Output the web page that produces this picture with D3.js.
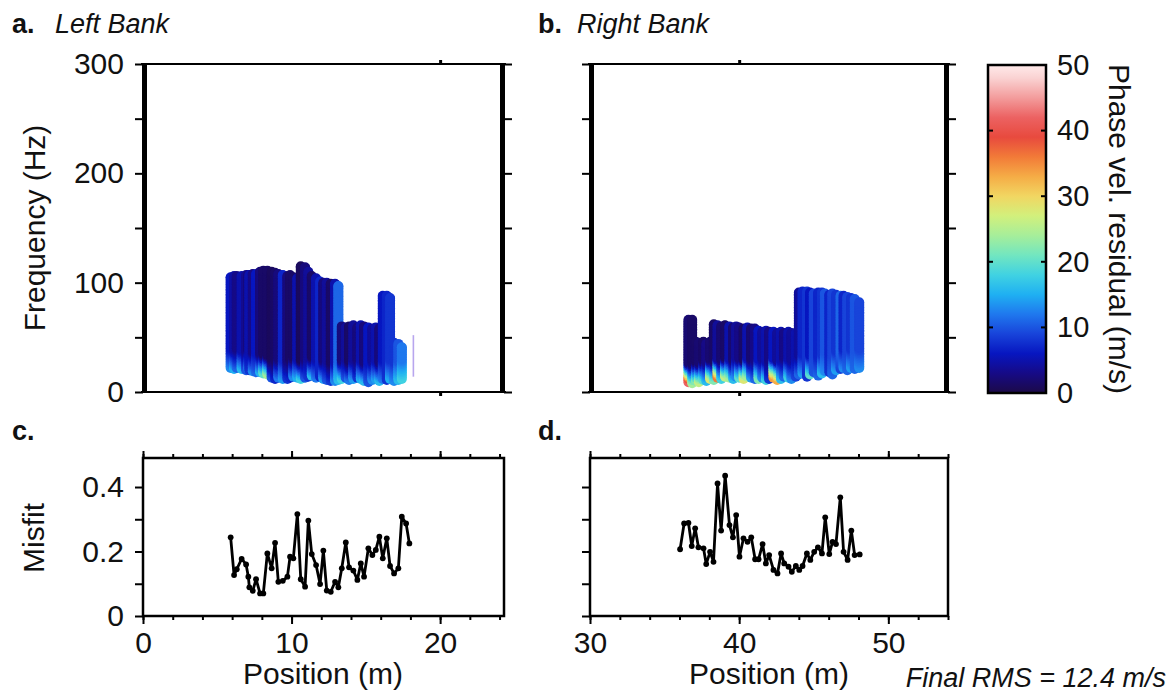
<!DOCTYPE html>
<html><head><meta charset="utf-8">
<script src="https://cdn.jsdelivr.net/npm/d3@7"></script>
<style>
body{margin:0;background:#fff}
svg{display:block}
text{font-family:"Liberation Sans",Arial,Helvetica,sans-serif;fill:#111}
</style>
</head><body>
<svg id="c" width="1175" height="695"></svg>
<script>
// ---------------- DATA ----------------
// Left bank: dispersion columns (position m, top/bottom frequency Hz, residual m/s body / low-freq)
const lPos  = [5.90,6.13,6.31,6.64,6.94,7.09,7.16,7.39,7.61,7.88,8.10,8.37,8.66,8.89,9.11,9.41,9.72,9.90,10.12,10.39,10.62,10.91,11.13,11.36,11.65,11.92,12.14,12.37,12.64,12.93,13.15,13.38,13.65,13.87,14.16,14.43,14.66,14.88,15.17,15.44,15.67,15.91,16.14,16.41,16.63,16.90,17.19,17.42];
const lTop  = [105,106,106,106,107,107,107,108,108,110,111,111,110,109,108,107,106,107,105,104,115,114,110,106,104,101,100,100,99,99,97,60,59,60,61,59,61,60,59,58,59,58,88,88,86,45,44,41];
const lBot  = [22,21,22,21,20,21,20,19,18,18,17,16,13,12,13,12,12,13,14,13,12,13,14,15,13,14,12,11,10,10,11,12,13,11,12,13,12,10,9,11,12,10,12,11,12,10,11,12];
const lBody = [6,4.5,3,5,3.5,2.5,5,3,6,2.5,1.5,1.5,1,1.5,2.5,7,2.5,1.5,1.5,5,1,2.5,4,1.5,5,7,2.5,4,1.5,5,11,2.5,4,1.5,4,2.5,5,2.5,6,4,5,2.5,6,7,8,8,10,12];
const lLow  = [13,15,11,16,10,12,8,13,11,15,20,24,10,7,12,14,8,7,13,15,18,10,8,16,12,7,14,10,8,13,16,18,10,12,14,8,15,16,10,13,14,16,12,8,15,13,16,18];
const lThinPos = [18.2], lThinLo = [14], lThinHi = [52];

// Right bank columns
const rPos  = [36.6,36.85,37.1,37.3,37.6,37.8,38.05,38.3,38.55,38.8,39.05,39.35,39.6,39.8,40.0,40.3,40.55,40.8,41.05,41.3,41.55,41.8,42.0,42.3,42.55,42.8,43.0,43.3,43.5,43.8,44.0,44.25,44.55,44.75,45.0,45.3,45.55,45.75,46.05,46.25,46.5,46.8,47.0,47.25,47.5,47.75,48.05];
const rTop  = [66,66,46,45,46,44,46,62,61,60,61,60,59,60,59,58,59,58,58,56,55,56,55,55,54,55,54,55,54,54,91,92,92,91,90,91,91,90,89,90,89,88,88,87,86,85,82];
const rBot  = [9,8,10,9,11,10,12,11,13,12,14,13,12,14,13,12,14,13,12,12,13,11,12,13,11,12,14,13,12,14,16,17,14,16,18,15,17,19,18,16,20,21,22,20,22,21,22];
const rBody = [2,1.5,1.5,2,1.5,3,2,1.5,4,2,1.5,5,2,4,3,1.5,5,2,3,6,4,5,3,6,4,5,3,5,4,5,4,7,8,6,9,7,8,10,7,9,8,11,7,9,8,10,9];
const rLow  = [42,24,22,26,20,16,28,22,36,18,26,24,16,13,20,28,24,14,11,22,13,18,8,34,33,16,11,18,13,9,11,14,8,20,10,11,16,13,8,11,14,9,13,11,14,11,13];

// Misfit curves
const lMisPos = [5.90,6.13,6.31,6.64,6.94,7.09,7.16,7.39,7.61,7.88,8.10,8.37,8.66,8.89,9.11,9.41,9.72,9.90,10.12,10.39,10.62,10.91,11.13,11.36,11.65,11.92,12.14,12.37,12.64,12.93,13.15,13.38,13.65,13.87,14.16,14.43,14.66,14.88,15.17,15.44,15.67,15.91,16.14,16.41,16.63,16.90,17.19,17.42,17.71,17.93];
const lMis    = [0.244,0.127,0.145,0.177,0.160,0.122,0.089,0.078,0.114,0.070,0.070,0.194,0.148,0.227,0.106,0.109,0.122,0.184,0.179,0.316,0.114,0.091,0.296,0.192,0.158,0.099,0.203,0.079,0.075,0.106,0.089,0.148,0.228,0.151,0.141,0.112,0.163,0.122,0.210,0.189,0.205,0.246,0.179,0.241,0.155,0.132,0.148,0.308,0.287,0.225];
const rMisPos = [36.04,36.31,36.60,36.82,37.05,37.27,37.61,37.79,38.05,38.28,38.55,38.79,39.06,39.35,39.58,39.80,40.02,40.29,40.56,40.81,41.07,41.30,41.57,41.79,42.01,42.30,42.57,42.81,43.02,43.31,43.53,43.80,44.03,44.25,44.54,44.77,45.03,45.28,45.55,45.77,46.04,46.26,46.49,46.78,47.00,47.27,47.52,47.74,48.08];
const rMis    = [0.207,0.287,0.289,0.217,0.272,0.213,0.210,0.161,0.199,0.168,0.411,0.265,0.435,0.282,0.244,0.313,0.184,0.241,0.230,0.244,0.176,0.176,0.223,0.163,0.189,0.143,0.132,0.194,0.163,0.153,0.137,0.155,0.143,0.155,0.194,0.174,0.199,0.213,0.194,0.306,0.192,0.230,0.223,0.368,0.199,0.174,0.265,0.189,0.191];

// Tick values / labels
const freqTicks = [0,50,100,150,200,250,300];
const freqLabels = [0,100,200,300];
const misTicks = [0,0.1,0.2,0.3,0.4];
const misLabels = [0,0.2,0.4];
const cbarTicks = [0,10,20,30,40,50];
const colorStopVals = [0,3,6,9,12,15,18,21,24,27,30,33,36,39,42,45,48,50];
const colorStopCols = ["#1c0a48","#160a86","#0716c0","#1844da","#1f78ee","#1fb0f2","#40d2e2","#72e6c0","#a6ee9a","#d2f07c","#f1d662","#f5ac46","#f27a38","#e84a3e","#ec6262","#f39c9c","#fad2d2","#ffeaea"];

// ---------------- DRAW ----------------
const svg = d3.select("#c");
const color = d3.scaleLinear().domain(colorStopVals).range(colorStopCols).clamp(true);

const panels = {
  a: {x: d3.scaleLinear().domain([0,24.3]).range([143,504]), major: [0,10,20], mark: 20},
  b: {x: d3.scaleLinear().domain([30,54]).range([590,948]), major: [30,40,50], mark: 40}
};
const yF = d3.scaleLinear().domain([0,300]).range([392,64]);
const yM = d3.scaleLinear().domain([0,0.49]).range([616,458]);
const FS = 30;

function styleAxis(g, fs){
  g.select(".domain").remove();
  g.selectAll("line").attr("stroke","#000").attr("stroke-width",2);
  g.selectAll("text").style("font-size",fs+"px").style("font-family","'Liberation Sans',Arial,sans-serif").attr("fill","#111");
}

function topPanel(p, pos, top, bot, body, low, showLabels){
  const x = p.x, [x0,x1] = x.range(), y0 = yF.range()[1], y1 = yF.range()[0];
  const g = svg.append("g");
  pos.forEach((ps,i)=>{
    const pts = [];
    for(let f=bot[i]; f<=top[i]; f+=1.5) pts.push(f);
    if(pts[pts.length-1] < top[i]) pts.push(top[i]);
    pts.forEach(f=>{
      const t = Math.max(0, Math.min(1, (f - bot[i] - 1.5)/16));
      const r = low[i] + (body[i]-low[i])*t;
      g.append("circle").attr("cx", x(ps)).attr("cy", yF(f)).attr("r", 5).attr("fill", color(r));
    });
  });
  const la = svg.append("g").attr("transform",`translate(${x0},0)`)
    .call(d3.axisLeft(yF).tickValues(freqTicks).tickSize(8).tickPadding(11)
      .tickFormat(d => showLabels && freqLabels.includes(d) ? d : ""));
  styleAxis(la, FS);
  const ra = svg.append("g").attr("transform",`translate(${x1},0)`)
    .call(d3.axisRight(yF).tickValues(freqTicks).tickSize(8).tickFormat(""));
  styleAxis(ra, FS);
  const ta = svg.append("g").attr("transform",`translate(0,${y0})`)
    .call(d3.axisTop(x).tickValues([p.mark]).tickSize(4).tickFormat(""));
  styleAxis(ta, FS); ta.selectAll("line").attr("stroke-width",3);
  const ba = svg.append("g").attr("transform",`translate(0,${y1})`)
    .call(d3.axisBottom(x).tickValues([p.mark]).tickSize(4).tickFormat(""));
  styleAxis(ba, FS); ba.selectAll("line").attr("stroke-width",3);
  svg.append("line").attr("x1",x0-2).attr("x2",x1+2).attr("y1",y0).attr("y2",y0).attr("stroke","#000").attr("stroke-width",2);
  svg.append("line").attr("x1",x0-2).attr("x2",x1+2).attr("y1",y1).attr("y2",y1).attr("stroke","#000").attr("stroke-width",2);
  svg.append("line").attr("x1",x0+1.5).attr("x2",x0+1.5).attr("y1",y0).attr("y2",y1).attr("stroke","#000").attr("stroke-width",5);
  svg.append("line").attr("x1",x1-1.5).attr("x2",x1-1.5).attr("y1",y0).attr("y2",y1).attr("stroke","#000").attr("stroke-width",5);
}

function botPanel(p, mpos, mval, showLabels){
  const x = p.x, [x0,x1] = x.range(), y0 = yM.range()[1], y1 = yM.range()[0];
  const d0 = x.domain()[0];
  const minor = d3.range(d0, x.domain()[1]+0.001, 2);
  const la = svg.append("g").attr("transform",`translate(${x0},0)`)
    .call(d3.axisLeft(yM).tickValues(misTicks).tickSize(8).tickPadding(11)
      .tickFormat(d => showLabels && misLabels.some(v=>Math.abs(v-d)<1e-9) ? (d===0?"0":d3.format(".1f")(d)) : ""));
  styleAxis(la, FS);
  const bm = svg.append("g").attr("transform",`translate(0,${y1})`)
    .call(d3.axisBottom(x).tickValues(minor).tickSize(4).tickFormat(""));
  styleAxis(bm, FS);
  const bM = svg.append("g").attr("transform",`translate(0,${y1})`)
    .call(d3.axisBottom(x).tickValues(p.major).tickSize(8).tickPadding(8).tickFormat(d3.format("d")));
  styleAxis(bM, FS);
  const tm = svg.append("g").attr("transform",`translate(0,${y0})`)
    .call(d3.axisTop(x).tickValues(minor).tickSize(4).tickFormat(""));
  styleAxis(tm, FS);
  const tM = svg.append("g").attr("transform",`translate(0,${y0})`)
    .call(d3.axisTop(x).tickValues(p.major).tickSize(7).tickFormat(""));
  styleAxis(tM, FS);
  svg.append("rect").attr("x",x0).attr("y",y0).attr("width",x1-x0).attr("height",y1-y0)
    .attr("fill","none").attr("stroke","#000").attr("stroke-width",2.5);
  const line = d3.line().x((d,i)=>x(mpos[i])).y(d=>yM(d));
  svg.append("path").datum(mval).attr("d",line).attr("fill","none").attr("stroke","#000").attr("stroke-width",2.8).attr("stroke-linejoin","round");
  svg.append("g").selectAll("circle").data(mval).join("circle")
    .attr("cx",(d,i)=>x(mpos[i])).attr("cy",d=>yM(d)).attr("r",2.9).attr("fill","#000");
}

topPanel(panels.a, lPos, lTop, lBot, lBody, lLow, true);
svg.append("g").selectAll("line").data(lThinPos).join("line")
  .attr("x1",d=>panels.a.x(d)).attr("x2",d=>panels.a.x(d))
  .attr("y1",(d,i)=>yF(lThinLo[i])).attr("y2",(d,i)=>yF(lThinHi[i]))
  .attr("stroke","#b8a6ee").attr("stroke-width",1.6);
topPanel(panels.b, rPos, rTop, rBot, rBody, rLow, false);
botPanel(panels.a, lMisPos, lMis, true);
botPanel(panels.b, rMisPos, rMis, false);

// colorbar
const cy = d3.scaleLinear().domain([0,50]).range([393,65]);
const defs = svg.append("defs");
const grad = defs.append("linearGradient").attr("id","cg").attr("x1",0).attr("x2",0).attr("y1",1).attr("y2",0);
colorStopVals.forEach((v,i)=> grad.append("stop").attr("offset", v/50).attr("stop-color", colorStopCols[i]));
const cbX0 = 988, cbW = 58;
svg.append("rect").attr("x",cbX0).attr("y",65).attr("width",cbW).attr("height",328).attr("fill","url(#cg)")
  .attr("stroke","#000").attr("stroke-width",2.5);
const ca = svg.append("g").attr("transform",`translate(${cbX0+cbW},0)`)
  .call(d3.axisRight(cy).tickValues(cbarTicks).tickSize(0).tickPadding(11).tickFormat(d3.format("d")));
styleAxis(ca, 29);
svg.append("g").selectAll("line").data(cbarTicks.slice(1,-1)).join("line")
  .attr("x1",cbX0-1).attr("x2",cbX0+5).attr("y1",d=>cy(d)).attr("y2",d=>cy(d)).attr("stroke","#000").attr("stroke-width",2);
svg.append("g").selectAll("line").data(cbarTicks.slice(1,-1)).join("line")
  .attr("x1",cbX0+cbW-5).attr("x2",cbX0+cbW+1).attr("y1",d=>cy(d)).attr("y2",d=>cy(d)).attr("stroke","#000").attr("stroke-width",2);

// texts
function txt(x,y,s,opts={}){
  const t = svg.append("text").attr("x",x).attr("y",y).text(s)
    .style("font-size",(opts.fs||FS)+"px");
  if(opts.anchor) t.attr("text-anchor",opts.anchor);
  if(opts.weight) t.style("font-weight",opts.weight);
  if(opts.italic) t.style("font-style","italic");
  if(opts.tr) t.attr("transform",opts.tr).attr("x",0).attr("y",0);
  return t;
}
txt(12,33,"a.",{fs:27,weight:"bold"});
txt(55,33,"Left Bank",{fs:27,italic:true});
txt(538,33,"b.",{fs:27,weight:"bold"});
txt(577,33,"Right Bank",{fs:27,italic:true});
txt(12,440,"c.",{fs:27,weight:"bold"});
txt(538,440,"d.",{fs:27,weight:"bold"});
txt(0,0,"Frequency (Hz)",{anchor:"middle",tr:"translate(45,228) rotate(-90)"});
txt(0,0,"Misfit",{anchor:"middle",tr:"translate(44,538) rotate(-90)"});
txt(323,684,"Position (m)",{anchor:"middle"});
txt(769,684,"Position (m)",{anchor:"middle"});
txt(1166,687,"Final RMS = 12.4 m/s",{fs:27,italic:true,anchor:"end"});
txt(0,0,"Phase vel. residual (m/s)",{anchor:"middle",tr:"translate(1109,229) rotate(90)"});
</script>
</body></html>
